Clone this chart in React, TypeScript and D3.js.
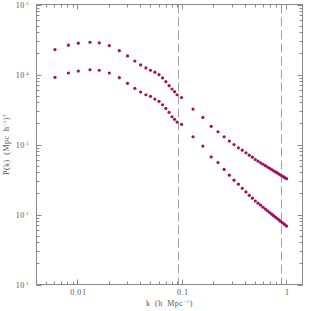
import React from 'react'
import * as d3 from 'd3'

// wavenumbers (h/Mpc)
const kLow = [0.0061, 0.0082, 0.0102, 0.0132, 0.0162, 0.0202, 0.0252, 0.0302, 0.0355, 0.0403, 0.0453,
  0.0501, 0.0552, 0.0605, 0.0654, 0.0703, 0.0755, 0.0805, 0.0852, 0.0901, 0.0994]
const kHigh = [0.128, 0.159, 0.191, 0.222, 0.254, 0.285, 0.316, 0.348, 0.379, 0.411, 0.442, 0.474, 0.505,
  0.537, 0.568, 0.599, 0.631, 0.662, 0.694, 0.725, 0.756, 0.788, 0.819, 0.851, 0.882, 0.913, 0.945, 0.976, 1.007]

const upperLow = [22700, 26200, 28000, 28900, 28300, 25900, 21900, 18400, 15600, 13700, 12400,
  11500, 10800, 9950, 8920, 7890, 6920, 6210, 5680, 5140, 4690]
const upperHigh = [3210, 2440, 1820, 1520, 1290, 1120, 1000, 896, 830, 760, 705, 659, 611,
  577, 548, 522, 498, 476, 456, 438, 421, 406, 392, 378, 366, 355, 344, 333, 325]

const lowerLow = [9120, 10500, 11200, 11700, 11500, 10500, 9010, 7490, 6350, 5620, 5140,
  4880, 4460, 4140, 3700, 3280, 2880, 2490, 2290, 2090, 1940]
const lowerHigh = [1290, 948, 665, 553, 440, 364, 309, 271, 237, 210, 188, 171, 156,
  145, 136, 127, 119.5, 112.8, 106.7, 101.2, 96.3, 91.7, 87.6, 83.7, 80.1, 76.9, 73.8, 71.0, 68.4]

const vLines = [0.091, 0.9]
const xTickLabels = [{ v: 0.01, t: '0.01' }, { v: 0.1, t: '0.1' }, { v: 1, t: '1' }]
const yExponents = [1, 2, 3, 4, 5]

const W = 311
const H = 311
const margin = { top: 4.5, right: 8.5, bottom: 26.5, left: 36.5 }
const font = '"Liberation Serif", "DejaVu Serif", serif'
const axisColor = '#8a8a8a'
const textColor = '#555'
const dotColor = '#a01060'

const App = () => {
  const x = d3.scaleLog().domain([0.00406, 1.43]).range([margin.left, W - margin.right])
  const y = d3.scaleLog().domain([10, 1e5]).range([H - margin.bottom, margin.top])
  const [x0, x1] = x.range()
  const [y0, y1] = y.range()

  const xTicks: { v: number, major: boolean }[] = []
  for (let e = -3; e <= 0; e++) {
    for (let m = 1; m <= 9; m++) {
      const v = m * Math.pow(10, e)
      if (v >= 0.00406 && v <= 1.43) xTicks.push({ v, major: m === 1 })
    }
  }
  const yTicks: { v: number, major: boolean }[] = []
  for (let e = 1; e <= 5; e++) {
    for (let m = 1; m <= 9; m++) {
      const v = m * Math.pow(10, e)
      if (v <= 1e5) yTicks.push({ v, major: m === 1 })
    }
  }

  const upper = kLow.map((k, i) => [k, upperLow[i]]).concat(kHigh.map((k, i) => [k, upperHigh[i]]))
  const lower = kLow.map((k, i) => [k, lowerLow[i]]).concat(kHigh.map((k, i) => [k, lowerHigh[i]]))

  return (
    <svg width={W} height={H} style={{ position: 'absolute', left: 0, top: 0, background: '#fff' }}
      fontFamily={font}>
      {vLines.map(v => (
        <line key={v} x1={Math.round(x(v)) + 0.5} x2={Math.round(x(v)) + 0.5} y1={y1} y2={y0}
          stroke="#a0a0a0" strokeWidth={1} strokeDasharray="9,4" />
      ))}
      <rect x={x0} y={y1} width={x1 - x0} height={y0 - y1} fill="none" stroke={axisColor} strokeWidth={1} />
      {xTicks.map((t, i) => {
        const px = Math.round(x(t.v)) + 0.5
        const len = t.major ? 5 : 3
        return (
          <g key={'x' + i} stroke={axisColor}>
            <line x1={px} x2={px} y1={y0} y2={y0 - len} />
            <line x1={px} x2={px} y1={y1} y2={y1 + len} />
          </g>
        )
      })}
      {yTicks.map((t, i) => {
        const py = Math.round(y(t.v)) + 0.5
        const len = t.major ? 5 : 3
        return (
          <g key={'y' + i} stroke={axisColor}>
            <line x1={x0} x2={x0 + len} y1={py} y2={py} />
            <line x1={x1} x2={x1 - len} y1={py} y2={py} />
          </g>
        )
      })}
      {xTickLabels.map(t => (
        <text key={t.t} x={x(t.v) + 1} y={295} fontSize={8} letterSpacing={0.6} fill={textColor}
          textAnchor="middle">{t.t}</text>
      ))}
      {yExponents.map(e => (
        <text key={e} x={29} y={y(Math.pow(10, e)) + 3} fontSize={8} letterSpacing={0.6} fill={textColor}
          textAnchor="end">
          10<tspan fontSize={5} dx={1} dy={-3}>{e}</tspan>
        </text>
      ))}
      <text x={(x0 + x1) / 2} y={306} fontSize={8} letterSpacing={0.5} wordSpacing={2} fill={textColor}
        textAnchor="middle">
        k (h Mpc<tspan fontSize={5} dy={-3}>−1</tspan><tspan dy={3}>)</tspan>
      </text>
      <text transform={`translate(9,${(y0 + y1) / 2}) rotate(-90)`} fontSize={8} letterSpacing={0.5}
        wordSpacing={2} fill={textColor} textAnchor="middle">
        P(k) (Mpc h<tspan fontSize={5} dy={-3}>−1</tspan><tspan dy={3}>)</tspan><tspan fontSize={5} dy={-3}>3</tspan>
      </text>
      {[upper, lower].map((s, si) => (
        <g key={si} fill={dotColor}>
          {s.map((d, i) => (
            <circle key={i} cx={x(d[0])} cy={y(d[1])} r={1.6} />
          ))}
        </g>
      ))}
    </svg>
  )
}

export default App
